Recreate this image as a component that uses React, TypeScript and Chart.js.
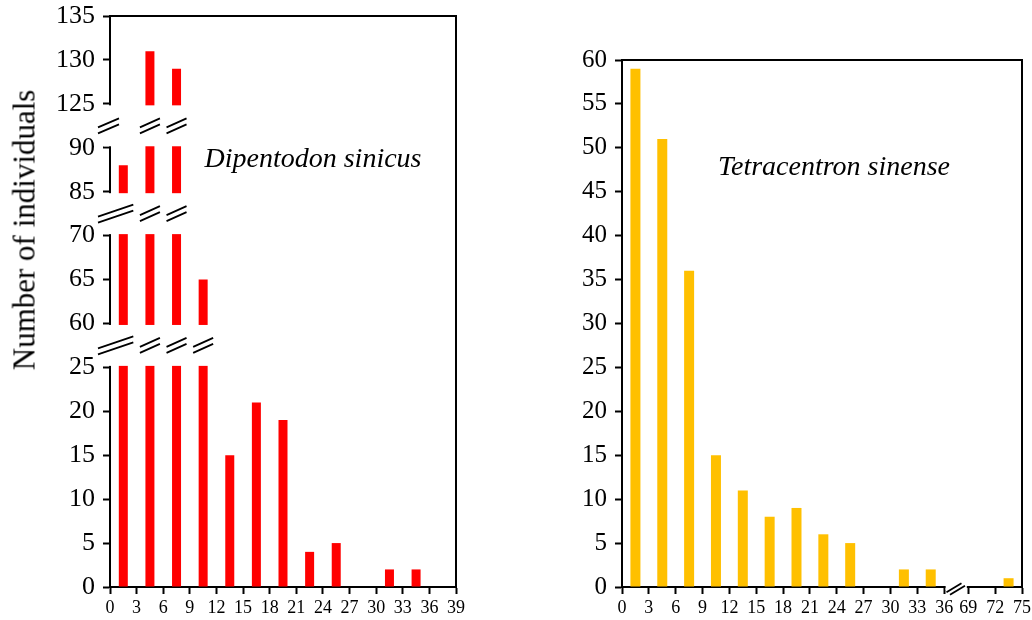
import React, { useEffect, useRef } from 'react';
import { Chart, registerables, LinearScale } from 'chart.js';

Chart.register(...registerables);

// ---------- data ----------
const leftBins = [1.5, 4.5, 7.5, 10.5, 13.5, 16.5, 19.5, 22.5, 25.5, 28.5, 31.5, 34.5, 37.5];
const leftCounts = [88, 131, 129, 65, 15, 21, 19, 4, 5, 0, 2, 2, 0];
const rightBins = [1.5, 4.5, 7.5, 10.5, 13.5, 16.5, 19.5, 22.5, 25.5, 28.5, 31.5, 34.5, 73.5];
const rightCounts = [59, 51, 36, 15, 11, 8, 9, 6, 5, 0, 2, 2, 1];

const leftYTicks = [0, 5, 10, 15, 20, 25, 60, 65, 70, 85, 90, 125, 130, 135];
const leftXTicks = [0, 3, 6, 9, 12, 15, 18, 21, 24, 27, 30, 33, 36, 39];
const rightYTicks = [0, 5, 10, 15, 20, 25, 30, 35, 40, 45, 50, 55, 60];
const rightXTicks = [0, 3, 6, 9, 12, 15, 18, 21, 24, 27, 30, 33, 36, 69, 72, 75];

const leftYSegments = [[0, 25], [60, 70], [85, 90], [125, 135]];
const rightXSegments = [[0, 36], [69, 75]];

const leftTitle = 'Number of individuals';
const leftSpecies = 'Dipentodon sinicus';
const rightSpecies = 'Tetracentron sinense';

const FONT = "'Liberation Serif', 'Times New Roman', serif";

// ---------- broken (piecewise) linear scale ----------
function makeBrokenScale(scaleId: string, segments: number[][], gap: number) {
  const total = segments.reduce((s, [a, b]) => s + (b - a), 0) + gap * (segments.length - 1);
  const toUnit = (v: number) => {
    let u = 0;
    for (let i = 0; i < segments.length; i++) {
      const [a, b] = segments[i];
      if (v < a) {
        if (i === 0) return v - a;
        const pb = segments[i - 1][1];
        return u - gap + (gap * (v - pb)) / (a - pb);
      }
      if (v <= b) return u + (v - a);
      u += b - a + gap;
    }
    return u - gap + (v - segments[segments.length - 1][1]);
  };
  const fromUnit = (t: number) => {
    let u = 0;
    for (let i = 0; i < segments.length; i++) {
      const [a, b] = segments[i];
      const len = b - a;
      if (t <= u + len) return a + (t - u);
      if (i < segments.length - 1 && t < u + len + gap) {
        const na = segments[i + 1][0];
        return b + ((t - u - len) / gap) * (na - b);
      }
      u += len + gap;
    }
    return segments[segments.length - 1][1];
  };
  class Broken extends (LinearScale as any) {
    static id = scaleId;
    getPixelForValue(value: number) {
      return (this as any).getPixelForDecimal(toUnit(value) / total);
    }
    getValueForPixel(pixel: number) {
      return fromUnit((this as any).getDecimalForPixel(pixel) * total);
    }
  }
  return Broken;
}

const LeftYScale = makeBrokenScale('brokenLeftY', leftYSegments, 5);
const RightXScale = makeBrokenScale('brokenRightX', rightXSegments, 2.7);
Chart.register(LeftYScale as any, RightXScale as any);

// ---------- drawing helpers ----------
function drawBreak(ctx: CanvasRenderingContext2D, x0: number, x1: number, cy: number, rise: number, dx: number, dy: number) {
  ctx.beginPath();
  for (const s of [-0.5, 0.5]) {
    ctx.moveTo(x0 + dx * s, cy + rise / 2 + dy * s);
    ctx.lineTo(x1 + dx * s, cy - rise / 2 + dy * s);
  }
  ctx.stroke();
}

const leftDecor = {
  id: 'leftDecor',
  afterDraw(chart: any) {
    const { ctx, chartArea: ca, scales } = chart;
    const y = scales.y;
    const x = scales.x;
    ctx.save();
    const gaps: { cy: number; i: number }[] = [];
    for (let i = 0; i < leftYSegments.length - 1; i++) {
      const lowTop = y.getPixelForValue(leftYSegments[i][1]);
      const highBot = y.getPixelForValue(leftYSegments[i + 1][0]);
      ctx.fillStyle = '#ffffff';
      ctx.fillRect(ca.left - 6, highBot + 1.5, ca.right - 1 - (ca.left - 6), lowTop - highBot - 3);
      gaps.push({ cy: (lowTop + highBot) / 2, i });
    }
    ctx.strokeStyle = '#000';
    ctx.lineWidth = 2;
    ctx.beginPath();
    ctx.moveTo(ca.left - 1, ca.top);
    ctx.lineTo(ca.right, ca.top);
    ctx.lineTo(ca.right, ca.bottom);
    ctx.stroke();
    ctx.lineWidth = 1.8;
    for (const g of gaps) {
      const ranges: number[][] = [[ca.left - 12, ca.left + 9]];
      leftBins.forEach((b, j) => {
        if (leftCounts[j] > leftYSegments[g.i][1]) {
          const cx = x.getPixelForValue(b);
          ranges.push([cx - 10, cx + 10]);
        }
      });
      ranges.sort((a, b) => a[0] - b[0]);
      const merged: number[][] = [];
      for (const r of ranges) {
        const last = merged[merged.length - 1];
        if (last && r[0] <= last[1]) last[1] = Math.max(last[1], r[1]);
        else merged.push([r[0], r[1]]);
      }
      for (const m of merged) {
        const w = m[1] - m[0];
        drawBreak(ctx, m[0], m[1], g.cy, w > 24 ? 12 : 9, 0, 6);
      }
    }
    ctx.restore();
  },
};

const rightDecor = {
  id: 'rightDecor',
  afterDraw(chart: any) {
    const { ctx, chartArea: ca, scales } = chart;
    const x = scales.x;
    ctx.save();
    const p36 = x.getPixelForValue(rightXSegments[0][1]);
    const p69 = x.getPixelForValue(rightXSegments[1][0]);
    ctx.fillStyle = '#ffffff';
    ctx.fillRect(p36 + 1.5, ca.bottom - 3, p69 - p36 - 3, 6);
    ctx.strokeStyle = '#000';
    ctx.lineWidth = 2;
    ctx.beginPath();
    ctx.moveTo(ca.left - 1, ca.top);
    ctx.lineTo(ca.right, ca.top);
    ctx.lineTo(ca.right, ca.bottom);
    ctx.stroke();
    ctx.lineWidth = 1.8;
    const cx = (p36 + p69) / 2;
    drawBreak(ctx, cx - 8, cx + 7, ca.bottom + 2, 9, 3.5, 2.5);
    ctx.restore();
  },
};

function axisCommon(tickFont: number, padding: number) {
  return {
    border: { display: true, color: '#000', width: 2 },
    grid: { drawOnChartArea: false, drawTicks: true, tickLength: 7, tickColor: '#000', tickWidth: 2, color: '#000', offset: false },
    ticks: {
      autoSkip: false,
      maxRotation: 0,
      minRotation: 0,
      padding,
      color: '#000',
      font: { family: FONT, size: tickFont },
      callback: (v: any) => String(v),
    },
  };
}

export default function App() {
  const leftRef = useRef<HTMLCanvasElement>(null);
  const rightRef = useRef<HTMLCanvasElement>(null);

  useEffect(() => {
    const c1 = new Chart(leftRef.current as HTMLCanvasElement, {
      type: 'bar',
      data: {
        datasets: [
          {
            data: leftBins.map((b, i) => ({ x: b, y: leftCounts[i] })),
            backgroundColor: '#FF0000',
            borderWidth: 0,
            inflateAmount: 0,
            barThickness: 9,
          } as any,
        ],
      },
      options: {
        responsive: false,
        animation: false,
        devicePixelRatio: 1,
        layout: { padding: { top: 16, right: 14, left: 0, bottom: 0 } },
        plugins: { legend: { display: false }, tooltip: { enabled: false } },
        scales: {
          x: {
            type: 'linear',
            min: 0,
            max: 39,
            offset: false,
            ...axisCommon(18, 3),
            afterBuildTicks: (s: any) => {
              s.ticks = leftXTicks.map((v) => ({ value: v }));
            },
            afterFit: (s: any) => {
              s.height = 33;
              s.paddingLeft = 0;
              s.paddingRight = 0;
            },
          } as any,
          y: {
            type: 'brokenLeftY',
            min: 0,
            max: 135,
            ...axisCommon(26, 8),
            afterBuildTicks: (s: any) => {
              s.ticks = leftYTicks.map((v) => ({ value: v }));
            },
            afterFit: (s: any) => {
              s.width = 110;
              s.paddingTop = 0;
              s.paddingBottom = 0;
            },
          } as any,
        },
      },
      plugins: [leftDecor],
    });

    const c2 = new Chart(rightRef.current as HTMLCanvasElement, {
      type: 'bar',
      data: {
        datasets: [
          {
            data: rightBins.map((b, i) => ({ x: b, y: rightCounts[i] })),
            backgroundColor: '#FFC000',
            borderWidth: 0,
            inflateAmount: 0,
            barThickness: 10,
          } as any,
        ],
      },
      options: {
        responsive: false,
        animation: false,
        devicePixelRatio: 1,
        layout: { padding: { top: 60, right: 10, left: 0, bottom: 0 } },
        plugins: { legend: { display: false }, tooltip: { enabled: false } },
        scales: {
          x: {
            type: 'brokenRightX',
            min: 0,
            max: 75,
            offset: false,
            ...axisCommon(18, 3),
            afterBuildTicks: (s: any) => {
              s.ticks = rightXTicks.map((v) => ({ value: v }));
            },
            afterFit: (s: any) => {
              s.height = 33;
              s.paddingLeft = 0;
              s.paddingRight = 0;
            },
          } as any,
          y: {
            type: 'linear',
            min: 0,
            max: 60,
            ...axisCommon(25, 8),
            afterBuildTicks: (s: any) => {
              s.ticks = rightYTicks.map((v) => ({ value: v }));
            },
            afterFit: (s: any) => {
              s.width = 142;
              s.paddingTop = 0;
              s.paddingBottom = 0;
            },
          } as any,
        },
      },
      plugins: [rightDecor],
    });

    return () => {
      c1.destroy();
      c2.destroy();
    };
  }, []);

  return (
    <div
      style={{
        position: 'fixed',
        left: 0,
        top: 0,
        width: 1032,
        height: 620,
        background: '#ffffff',
        overflow: 'hidden',
      }}
    >
      <canvas
        ref={leftRef}
        width={470}
        height={620}
        style={{ position: 'absolute', left: 0, top: 0, width: 470, height: 620 }}
      />
      <canvas
        ref={rightRef}
        width={552}
        height={620}
        style={{ position: 'absolute', left: 480, top: 0, width: 552, height: 620 }}
      />
      <div
        style={{
          position: 'absolute',
          left: 24,
          top: 230,
          transform: 'translate(-50%, -50%) rotate(-90deg)',
          fontFamily: FONT,
          fontSize: 31,
          lineHeight: '31px',
          whiteSpace: 'nowrap',
          color: '#000',
        }}
      >
        {leftTitle}
      </div>
      <div
        style={{
          position: 'absolute',
          left: 313,
          top: 144,
          transform: 'translateX(-50%)',
          fontFamily: FONT,
          fontStyle: 'italic',
          fontSize: 28,
          lineHeight: '28px',
          whiteSpace: 'nowrap',
          color: '#000',
        }}
      >
        {leftSpecies}
      </div>
      <div
        style={{
          position: 'absolute',
          left: 834,
          top: 152,
          transform: 'translateX(-50%)',
          fontFamily: FONT,
          fontStyle: 'italic',
          fontSize: 28,
          lineHeight: '28px',
          whiteSpace: 'nowrap',
          color: '#000',
        }}
      >
        {rightSpecies}
      </div>
    </div>
  );
}
